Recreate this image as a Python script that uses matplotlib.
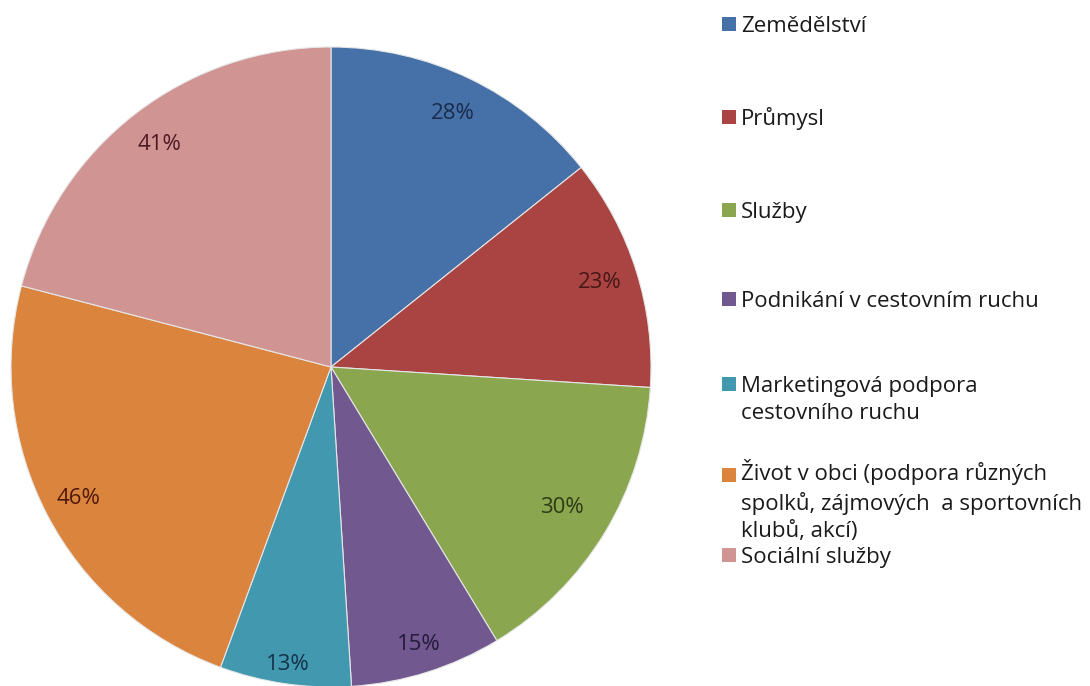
import matplotlib.pyplot as plt
from matplotlib.patches import Rectangle

plt.rcParams['font.family'] = ['Open Sans', 'DejaVu Sans']

categories = ['Zemědělství', 'Průmysl', 'Služby', 'Podnikání v cestovním ruchu',
              'Marketingová podpora\ncestovního ruchu',
              'Život v obci (podpora různých\nspolků, zájmových  a sportovních\nklubů, akcí)',
              'Sociální služby']
values = [28, 23, 30, 15, 13, 46, 41]

colors = ['#4571A8', '#A94442', '#8AA64F', '#71588F', '#4198AF', '#DB843D', '#D09493']
text_colors = ['#1B2B4A', '#451816', '#2E3A16', '#241A3A', '#15334A', '#4E1A0A', '#4E1A22']

W, H = 1090, 686
fig = plt.figure(figsize=(W / 100, H / 100), dpi=100)
ax = fig.add_axes([11 / W, -1 / H, 640 / W, 640 / H])

wedges, texts, autotexts = ax.pie(
    values, colors=colors, startangle=90, counterclock=False,
    autopct=lambda p: '%d%%' % round(p * sum(values) / 100),
    pctdistance=0.88, radius=1.0,
    wedgeprops=dict(edgecolor='#e6e6e6', linewidth=0.8),
    textprops=dict(fontsize=16))

# Excel's "best fit" puts the labels at slightly different radii
label_dist = [0.88, 0.88, 0.845, 0.91, 0.94, 0.89, 0.88]
for t, c, d in zip(autotexts, text_colors, label_dist):
    t.set_color(c)
    x, y = t.get_position()
    t.set_position((x * d / 0.88, y * d / 0.88))

ax.set_xlim(-1.0, 1.0)
ax.set_ylim(-1.0, 1.0)
ax.set_aspect('equal')
ax.axis('off')

# legend laid out like the Excel one (uneven slots), first-line baselines in px
legend_base = [32, 125, 218, 307, 392, 483, 563]
line_pitch = 27
for lab, col, yb in zip(categories, colors, legend_base):
    fy = 1 - yb / H
    fig.patches.append(Rectangle((722 / W, fy + 1 / H), 14 / W, 14 / H,
                                 transform=fig.transFigure, facecolor=col,
                                 edgecolor='none'))
    # va='baseline' anchors the last line, so push multi-line entries down
    n_extra = lab.count('\n')
    fig.text(741 / W, fy - n_extra * line_pitch / H, lab, fontsize=16,
             color='#1a1a1a', va='baseline', ha='left', linespacing=1.38)

fig.savefig('out.png', dpi=100)
